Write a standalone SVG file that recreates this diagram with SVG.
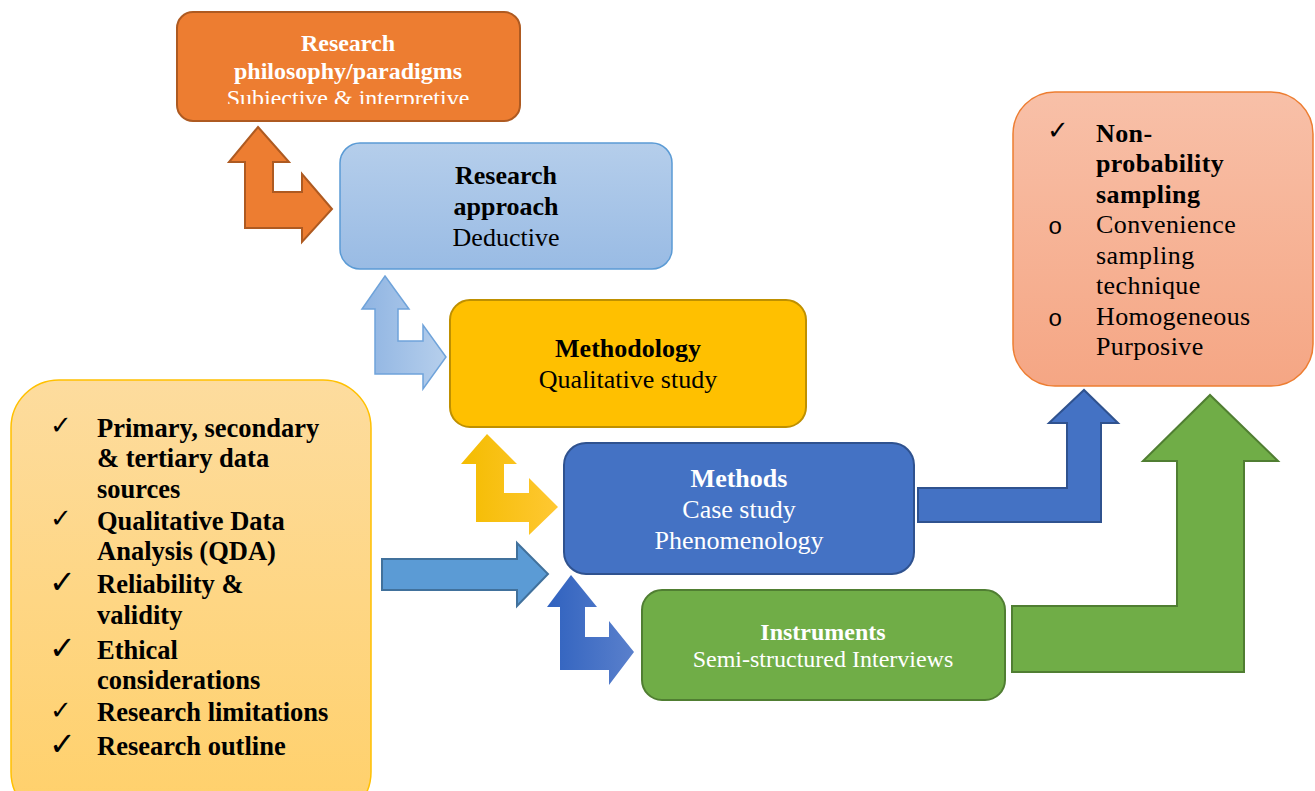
<svg xmlns="http://www.w3.org/2000/svg" width="1315" height="791" viewBox="0 0 1315 791">
  <style>
    text { font-family: "Liberation Serif", "Times New Roman", serif; }
    .b { font-weight: bold; }
    .mid { text-anchor: middle; }
    .w { fill: #ffffff; }
    .k { fill: #000000; }
    .f24 { font-size: 24px; }
    .f26 { font-size: 26px; }
    .lst { font-size: 26.5px; }
    .smp { font-size: 26px; letter-spacing: 0.4px; }
    .tick { font-family: "DejaVu Sans", sans-serif; fill: #000000; }
    .dot { font-family: "Liberation Mono", monospace; font-size: 24px; fill: #000000; }
  </style>
  <defs>
    <linearGradient id="gApproach" x1="0" y1="0" x2="0" y2="1">
      <stop offset="0" stop-color="#B5CEEB"/>
      <stop offset="1" stop-color="#99BBE4"/>
    </linearGradient>
    <linearGradient id="gList" x1="0" y1="0" x2="0" y2="1">
      <stop offset="0" stop-color="#FDDC9E"/>
      <stop offset="1" stop-color="#FFD06A"/>
    </linearGradient>
    <linearGradient id="gSampling" x1="0" y1="0" x2="0" y2="1">
      <stop offset="0" stop-color="#F8C0A8"/>
      <stop offset="1" stop-color="#F5A684"/>
    </linearGradient>
    <linearGradient id="gLightArrow" x1="0" y1="0" x2="1" y2="0">
      <stop offset="0" stop-color="#8FB4E2"/>
      <stop offset="1" stop-color="#B6CFEC"/>
    </linearGradient>
    <linearGradient id="gYellowArrow" x1="0" y1="0" x2="1" y2="0">
      <stop offset="0" stop-color="#F4BC00"/>
      <stop offset="1" stop-color="#FFC833"/>
    </linearGradient>
    <linearGradient id="gBlueArrow" x1="0" y1="0" x2="1" y2="0">
      <stop offset="0" stop-color="#3062BF"/>
      <stop offset="1" stop-color="#5A80CC"/>
    </linearGradient>
    <clipPath id="clipPhilosophy">
      <rect x="177" y="12" width="343" height="92"/>
    </clipPath>
  </defs>

  <!-- connectors -->
  <g id="connectors">
    <polygon id="arrow-philosophy-approach" fill="#ED7D31" stroke="#AE5A21" stroke-width="2"
      points="258,127 289,162 273,162 273,192 302,192 302,174 332,209 302,242 302,228 245,228 245,162 229,162"/>
    <polygon id="arrow-approach-methodology" fill="url(#gLightArrow)" stroke="#6FA3DA" stroke-width="1.5"
      points="385,276 409,309 398,309 398,341 423,341 423,325 446,357 423,389 423,374 375,374 375,309 362,309"/>
    <polygon id="arrow-methodology-methods" fill="url(#gYellowArrow)"
      points="487,434 517,464 504,464 504,493 529,493 529,478 558,507 529,535 529,522 476,522 476,464 461,464"/>
    <polygon id="arrow-list-methods" fill="#5B9BD5" stroke="#41719C" stroke-width="2"
      points="382,559 517,559 517,543 548,574 517,606 517,590 382,590"/>
    <polygon id="arrow-methods-instruments" fill="url(#gBlueArrow)"
      points="571,575 597,607 585,607 585,637 609,637 609,621 634,652 609,685 609,670 560,670 560,607 547,607"/>
    <polygon id="arrow-methods-sampling" fill="#4472C4" stroke="#2F528F" stroke-width="2"
      points="918,488 1067,488 1067,423 1049,423 1084,390 1118,423 1101,423 1101,522 918,522"/>
    <polygon id="arrow-instruments-sampling" fill="#70AD47" stroke="#507E32" stroke-width="2"
      points="1012,606 1177,606 1177,461 1143,461 1210,395 1278,461 1244,461 1244,672 1012,672"/>
  </g>

  <!-- research philosophy -->
  <g id="node-philosophy">
    <rect x="177" y="12" width="343" height="109" rx="16" fill="#ED7D31" stroke="#AE5A21" stroke-width="2"/>
    <g clip-path="url(#clipPhilosophy)">
      <text class="b mid w f24" x="348" y="51">Research</text>
      <text class="b mid w f24" x="348" y="79">philosophy/paradigms</text>
      <text class="mid w f24" x="348" y="106">Subjective &amp; interpretive</text>
    </g>
  </g>

  <!-- research approach -->
  <g id="node-approach">
    <rect x="340" y="143" width="332" height="126" rx="20" fill="url(#gApproach)" stroke="#5B9BD5" stroke-width="1.5"/>
    <text class="b mid k f26" x="506" y="184">Research</text>
    <text class="b mid k f26" x="506" y="215">approach</text>
    <text class="mid k f26" x="506" y="246">Deductive</text>
  </g>

  <!-- methodology -->
  <g id="node-methodology">
    <rect x="450" y="300" width="356" height="127" rx="20" fill="#FFC000" stroke="#BF9000" stroke-width="2"/>
    <text class="b mid k f26" x="628" y="357">Methodology</text>
    <text class="mid k f26" x="628" y="388">Qualitative study</text>
  </g>

  <!-- methods -->
  <g id="node-methods">
    <rect x="564" y="443" width="350" height="131" rx="22" fill="#4472C4" stroke="#2F528F" stroke-width="2"/>
    <text class="b mid w f26" x="739" y="487">Methods</text>
    <text class="mid w f26" x="739" y="518">Case study</text>
    <text class="mid w f26" x="739" y="549">Phenomenology</text>
  </g>

  <!-- instruments -->
  <g id="node-instruments">
    <rect x="642" y="590" width="363" height="110" rx="20" fill="#70AD47" stroke="#507E32" stroke-width="2"/>
    <text class="b mid w f24" x="823" y="640">Instruments</text>
    <text class="mid w f24" x="823" y="667">Semi-structured Interviews</text>
  </g>

  <!-- data, analysis and ethics list -->
  <g id="node-list">
    <rect x="11" y="380" width="360" height="440" rx="48" fill="url(#gList)" stroke="#FFC000" stroke-width="1.5"/>
    <text class="tick" font-size="26" x="50" y="434">✓</text>
    <text class="tick" font-size="26" x="50" y="527">✓</text>
    <text class="tick" font-size="32" x="49" y="593">✓</text>
    <text class="tick" font-size="32" x="49" y="659">✓</text>
    <text class="tick" font-size="26" x="50" y="719">✓</text>
    <text class="tick" font-size="32" x="49" y="755">✓</text>
    <text class="b k lst" x="97" y="437">Primary, secondary</text>
    <text class="b k lst" x="97" y="467">&amp; tertiary data</text>
    <text class="b k lst" x="97" y="498">sources</text>
    <text class="b k lst" x="97" y="530">Qualitative Data</text>
    <text class="b k lst" x="97" y="560">Analysis (QDA)</text>
    <text class="b k lst" x="97" y="593">Reliability &amp;</text>
    <text class="b k lst" x="97" y="624">validity</text>
    <text class="b k lst" x="97" y="659">Ethical</text>
    <text class="b k lst" x="97" y="689">considerations</text>
    <text class="b k lst" x="97" y="721">Research limitations</text>
    <text class="b k lst" x="97" y="755">Research outline</text>
  </g>

  <!-- sampling -->
  <g id="node-sampling">
    <rect x="1013" y="92" width="300" height="294" rx="42" fill="url(#gSampling)" stroke="#ED7D31" stroke-width="1.5"/>
    <text class="tick" font-size="26" x="1047" y="139">✓</text>
    <text class="dot" x="1048" y="234">o</text>
    <text class="dot" x="1048" y="326">o</text>
    <text class="b k smp" x="1096" y="142">Non-</text>
    <text class="b k smp" x="1096" y="172">probability</text>
    <text class="b k smp" x="1096" y="203">sampling</text>
    <text class="k smp" x="1096" y="233">Convenience</text>
    <text class="k smp" x="1096" y="264">sampling</text>
    <text class="k smp" x="1096" y="294">technique</text>
    <text class="k smp" x="1096" y="325">Homogeneous</text>
    <text class="k smp" x="1096" y="355">Purposive</text>
  </g>
</svg>
